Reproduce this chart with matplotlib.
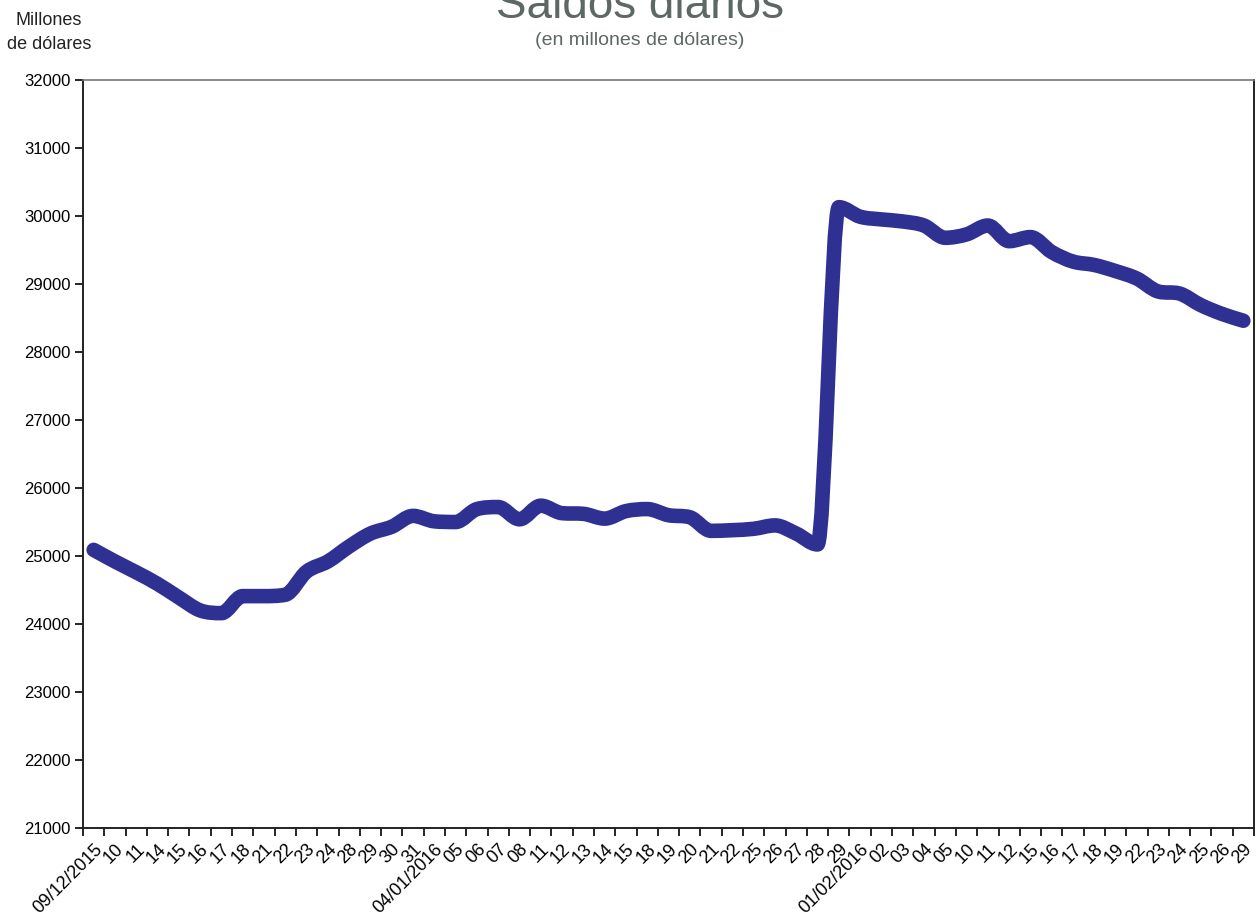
import matplotlib
matplotlib.use("Agg")
import matplotlib.pyplot as plt
import numpy as np
from matplotlib.path import Path
from matplotlib.patches import PathPatch

# etiquetas de fechas (dias habiles)
fechas = ["09/12/2015", "10", "11", "14", "15", "16", "17", "18", "21", "22",
          "23", "24", "28", "29", "30", "31",
          "04/01/2016", "05", "06", "07", "08", "11", "12", "13", "14", "15",
          "18", "19", "20", "21", "22", "25", "26", "27", "28", "29",
          "01/02/2016", "02", "03", "04", "05", "10", "11", "12", "15", "16",
          "17", "18", "19", "22", "23", "24", "25", "26", "29"]

# saldos diarios en millones de dolares
saldos = [25090, 24920, 24760, 24590, 24390, 24200, 24160, 24410, 24410, 24430,
          24770, 24920, 25140, 25330, 25430, 25590,
          25510, 25500, 25690, 25720, 25540, 25740, 25630, 25620, 25550, 25660,
          25690, 25600, 25570, 25370, 25380, 25400, 25450, 25330, 25170, 30130,
          29990, 29950, 29920, 29860, 29680, 29730, 29860, 29630, 29690, 29470,
          29330, 29280, 29190, 29080, 28890, 28860, 28690, 28560, 28460]

color_linea = "#2E3192"
fuente = ["Liberation Sans", "DejaVu Sans"]

fig = plt.figure(figsize=(12.56, 9.24), dpi=100)
ax = fig.add_axes([0.0661, 0.1039, 0.9323, 0.8095])

x = np.arange(len(saldos), dtype=float)
y = np.array(saldos, dtype=float)

# pendientes en cada punto (tipo Fritsch-Carlson, sin sobrepasos)
d = np.diff(y)
m = np.zeros_like(y)
m[0], m[-1] = d[0], d[-1]
for i in range(1, len(y) - 1):
    if d[i - 1] * d[i] > 0:
        m[i] = (d[i - 1] + d[i]) / 2.0
        lim = 3.0 * min(abs(d[i - 1]), abs(d[i]))
        if abs(m[i]) > lim:
            m[i] = np.sign(m[i]) * lim

# curva suavizada con segmentos de Bezier cubicos
verts = [(x[0], y[0])]
codes = [Path.MOVETO]
for i in range(len(x) - 1):
    verts.append((x[i] + 1 / 3, y[i] + m[i] / 3))
    verts.append((x[i + 1] - 1 / 3, y[i + 1] - m[i + 1] / 3))
    verts.append((x[i + 1], y[i + 1]))
    codes += [Path.CURVE4] * 3
ax.add_patch(PathPatch(Path(verts, codes), fill=False, edgecolor=color_linea,
                       linewidth=10.5, capstyle="round", joinstyle="round"))

ax.set_xlim(-0.5, len(saldos) - 0.5)
ax.set_ylim(21000, 32000)
ax.set_yticks(np.arange(21000, 32001, 1000))

ax.set_xticks(x)
ax.set_xticklabels(fechas, rotation=45, ha="right", va="top",
                   rotation_mode="anchor", family=fuente, fontsize=13)
ax.set_xticks(np.arange(-0.5, len(saldos), 1.0), minor=True)
ax.tick_params(axis="x", which="major", length=0, pad=9)
ax.tick_params(axis="x", which="minor", length=6, width=1.2, direction="out")
ax.tick_params(axis="y", length=6, width=1.2, direction="out", pad=3)
for lab in ax.get_yticklabels():
    lab.set_family(fuente)
    lab.set_fontsize(12)

for lado in ["left", "bottom", "right"]:
    ax.spines[lado].set_linewidth(1.4)
    ax.spines[lado].set_color("#222222")
ax.spines["top"].set_color("#777777")
ax.spines["top"].set_linewidth(1.2)

fig.text(0.5096, 0.9805, "Saldos diarios", ha="center", va="baseline",
         fontsize=33, color="#5d6763", family=fuente)
fig.text(0.5096, 0.9567, "(en millones de dólares)", ha="center", va="center",
         fontsize=14, color="#5d6763", family=fuente)
fig.text(0.039, 0.965, "Millones\nde dólares", ha="center", va="center",
         fontsize=13, color="#222222", family=fuente, linespacing=1.55)

fig.savefig("out.png", dpi=100)
